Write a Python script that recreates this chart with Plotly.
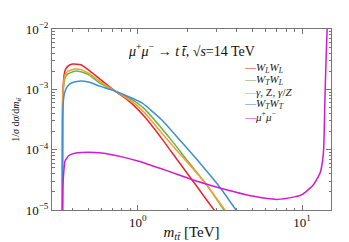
import math
import plotly.graph_objects as go

# ---- data ----
x_wlwl = [0.3462, 0.348, 0.352, 0.359, 0.375, 0.401, 0.45, 0.5, 0.587, 0.724, 0.894, 1.1, 1.42, 1.75, 2.13, 2.5, 2.91, 3.1]
y_wlwl = [1e-6, 6e-4, 1.3e-3, 2.0e-3, 2.42e-3, 2.62e-3, 2.55e-3, 2.1e-3, 1.48e-3, 9.4e-4, 6.2e-4, 3.5e-4, 1.44e-4, 6.6e-5, 3.2e-5, 1.76e-5, 1.0e-5, 7.9e-6]

x_wtwl = [0.3462, 0.348, 0.352, 0.359, 0.375, 0.413, 0.45, 0.5, 0.587, 0.724, 0.959, 1.1, 1.6, 2.0, 2.6, 3.0, 3.34, 3.6]
y_wtwl = [1e-6, 4.5e-4, 1.0e-3, 1.5e-3, 1.8e-3, 2.0e-3, 1.95e-3, 1.75e-3, 1.27e-3, 9.4e-4, 6.3e-4, 4.7e-4, 1.44e-4, 6.6e-5, 2.7e-5, 1.55e-5, 1.0e-5, 7.6e-6]

x_gz = [0.3462, 0.348, 0.352, 0.359, 0.375, 0.413, 0.45, 0.5, 0.587, 0.724, 0.928, 1.1, 1.52, 1.9, 2.6, 3.0, 3.39, 3.6]
y_gz = [1e-6, 5e-4, 1.15e-3, 1.7e-3, 2.0e-3, 2.17e-3, 2.12e-3, 1.85e-3, 1.36e-3, 9.4e-4, 6.2e-4, 4.1e-4, 1.44e-4, 7.2e-5, 2.7e-5, 1.58e-5, 1.0e-5, 8e-6]

x_wtwt = [0.3462, 0.348, 0.352, 0.359, 0.375, 0.401, 0.45, 0.5, 0.587, 0.724, 1.053, 1.4, 1.8, 2.4, 3.19, 3.96, 4.4]
y_wtwt = [1e-6, 3e-4, 6.5e-4, 9e-4, 1.15e-3, 1.3e-3, 1.38e-3, 1.32e-3, 1.13e-3, 9.4e-4, 6.0e-4, 3.1e-4, 1.44e-4, 5.9e-5, 2.3e-5, 1.0e-5, 6.7e-6]

x_mumu = [0.3462, 0.349, 0.352, 0.356, 0.36, 0.38, 0.42, 0.5, 0.6, 0.8, 1.0, 1.5, 2.13, 2.6, 3.19, 5.0, 7.0, 9.0, 10.0, 11.7, 12.9, 13.5, 13.75, 14.0, 14.25, 14.5]
y_mumu = [1e-6, 2.2e-5, 3.5e-5, 5.2e-5, 6.5e-5, 8.0e-5, 8.8e-5, 9.1e-5, 8.8e-5, 7.6e-5, 6.5e-5, 4.5e-5, 3.2e-5, 2.7e-5, 2.3e-5, 1.7e-5, 1.5e-5, 1.65e-5, 1.8e-5, 2.6e-5, 4.2e-5, 9.1e-5, 5.5e-4, 3.3e-3, 1.2e-2, 4e-2]

series = [
    ("<i>W</i><sub><i>L</i></sub><i>W</i><sub><i>L</i></sub>", x_wlwl, y_wlwl, "#e8262a"),
    ("<i>W</i><sub><i>T</i></sub><i>W</i><sub><i>L</i></sub>", x_wtwl, y_wtwl, "#62b84a"),
    ("<i>γ</i>, Z, <i>γ</i>/<i>Z</i>", x_gz, y_gz, "#ff9a30"),
    ("<i>W</i><sub><i>T</i></sub><i>W</i><sub><i>T</i></sub>", x_wtwt, y_wtwt, "#3d8fd1"),
    ("<i>μ</i><sup>+</sup><i>μ</i><sup>−</sup>", x_mumu, y_mumu, "#d21ad2"),
]

x_major = [1, 10]
x_major_text = ["10<sup>0</sup>", "10<sup>1</sup>"]
x_minor = [0.3, 0.4, 0.5, 0.6, 0.7, 0.8, 0.9, 2, 3, 4, 5, 6, 7, 8, 9]
y_major = [1e-5, 1e-4, 1e-3, 1e-2]
y_major_text = ["10<sup>−5</sup>", "10<sup>−4</sup>", "10<sup>−3</sup>", "10<sup>−2</sup>"]
y_minor = [m * 10 ** e for e in (-5, -4, -3) for m in range(2, 10)]

FONT = "Liberation Serif"

fig = go.Figure()
for name, xs, ys, col in series:
    fig.add_trace(go.Scatter(x=xs, y=ys, mode="lines", name=name,
                             line=dict(color=col, width=1.5, shape="spline", smoothing=0.5),
                             showlegend=False))

# legend drawn as text entries
for i, (name, xs, ys, col) in enumerate(series):
    fig.add_annotation(xref="paper", yref="paper", x=0.68, y=0.786 - i * 0.067,
                       xanchor="left", yanchor="middle", showarrow=False,
                       text=f'<span style="color:{col}"><b>—</b></span>{name}',
                       font=dict(family=FONT, size=11, color="#222"))

fig.add_annotation(xref="paper", yref="paper", x=0.5, y=0.885, showarrow=False,
                   xanchor="center", yanchor="middle",
                   text="<i>μ</i><sup>+</sup><i>μ</i><sup>−</sup> → <i>t\u2009t̄</i>, √<i>s</i>=14 TeV",
                   font=dict(family=FONT, size=14, color="#111"))

fig.add_annotation(xref="paper", yref="paper", x=-0.128, y=0.5, showarrow=False,
                   textangle=-90, xanchor="center", yanchor="middle",
                   text="1/<i>σ</i> d<i>σ</i>/d<i>m</i><sub><i>tt̄</i></sub>",
                   font=dict(family=FONT, size=10, color="#111"))

axis_common = dict(type="log", showgrid=False, zeroline=False, showline=True,
                   linecolor="#777", linewidth=1, mirror="allticks", ticks="inside",
                   ticklen=5, tickcolor="#777", automargin=False,
                   tickfont=dict(family=FONT, size=13, color="#111"))

fig.update_xaxes(**axis_common, range=[math.log10(0.3), math.log10(15)],
                 tickvals=x_major, ticktext=x_major_text,
                 minor=dict(tickvals=x_minor, ticks="inside", ticklen=2.5, tickcolor="#777"),
                 title=dict(text="<i>m</i><sub><i>tt̄</i></sub> [TeV]", standoff=6,
                            font=dict(family=FONT, size=15, color="#111")))
fig.update_yaxes(**axis_common, range=[-5, -2],
                 tickvals=y_major, ticktext=y_major_text,
                 minor=dict(tickvals=y_minor, ticks="inside", ticklen=2.5, tickcolor="#777"))

# the page body adds an 8px offset; size the figure so the plot area lands where the reference has it
fig.update_layout(width=341, height=234, margin=dict(l=44, r=18, t=21, b=32),
                  paper_bgcolor="white", plot_bgcolor="white", showlegend=False)

fig.write_html("out.html")
